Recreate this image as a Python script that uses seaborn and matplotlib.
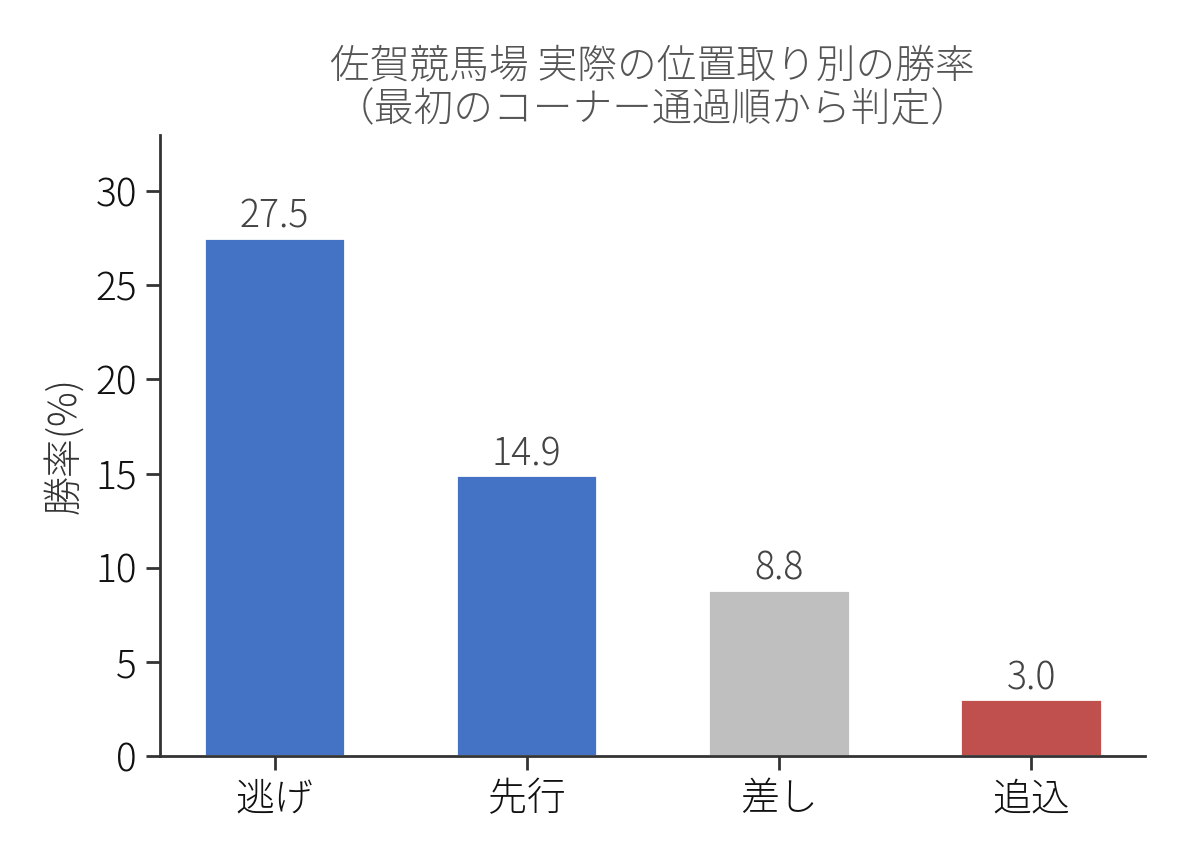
import matplotlib
matplotlib.use("Agg")
import matplotlib.pyplot as plt
import seaborn as sns
import pandas as pd

categories = ["逃げ", "先行", "差し", "追込"]
win_rate = [27.5, 14.9, 8.8, 3.0]
bar_colors = ["#4472C4", "#4472C4", "#BFBFBF", "#C0504D"]
title_text = "佐賀競馬場 実際の位置取り別の勝率\n（最初のコーナー通過順から判定）"
ylabel_text = "勝率(%)"

sns.set_style("white")
plt.rcParams['font.family'] = ['Noto Sans CJK JP', 'DejaVu Sans']

df = pd.DataFrame({"pos": categories, "rate": win_rate})

fig = plt.figure(figsize=(5.94, 4.29), dpi=200)
ax = fig.add_axes([0.135, 0.119, 0.829, 0.724])
sns.barplot(data=df, x="pos", y="rate", hue="pos", palette=bar_colors,
            width=0.56, legend=False, ax=ax, saturation=1)
for c in ax.containers:
    ax.bar_label(c, fmt="%.1f", padding=0.5, fontsize=13.5, color="#444444", fontweight="light")

ax.set_ylim(0, max(win_rate) * 1.2)
ax.set_xlim(-0.4525, 3.4525)
ax.set_xlabel("")
ax.set_ylabel(ylabel_text, fontsize=14, color="#333333", fontweight="light")
ax.set_title(title_text, fontsize=14.3, color="#555555", fontweight="light", linespacing=1.05, pad=5)
ax.tick_params(axis="both", labelsize=14, length=5, width=1, color="#333333",
               labelcolor="#111111", bottom=True, left=True)
for lab in ax.get_xticklabels() + ax.get_yticklabels():
    lab.set_fontweight("light")
for s in ["top", "right"]:
    ax.spines[s].set_visible(False)
for s in ["left", "bottom"]:
    ax.spines[s].set_color("#333333")
    ax.spines[s].set_linewidth(1)

fig.savefig("out.png", dpi=200)
